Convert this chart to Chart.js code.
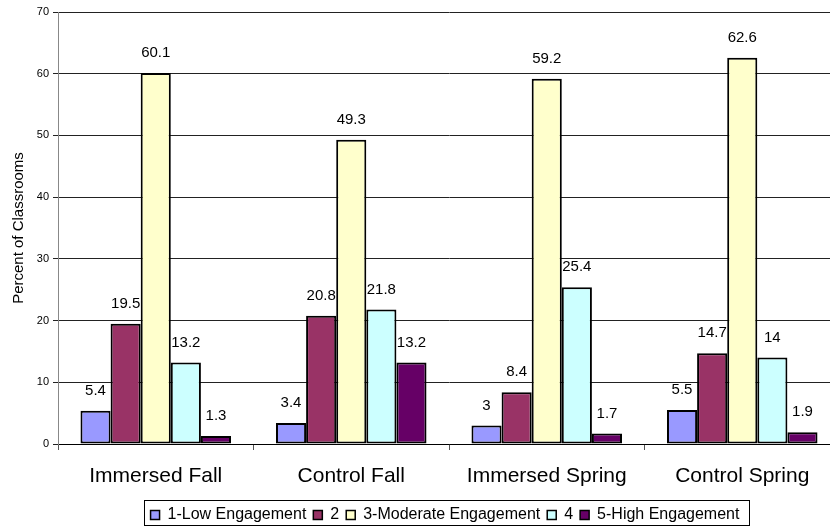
<!DOCTYPE html>
<html>
<head>
<meta charset="utf-8">
<script src="https://cdn.jsdelivr.net/npm/chart.js@4/dist/chart.umd.min.js"></script>
<style>
  html, body { margin: 0; padding: 0; background: #fff; overflow: hidden; }
  #wrap { width: 890px; height: 527px; }
</style>
</head>
<body>
<div id="wrap"><canvas id="barChart" width="890" height="527"></canvas></div>
<script>
var groups = ['Immersed Fall', 'Control Fall', 'Immersed Spring', 'Control Spring'];
var levels = ['1-Low Engagement', '2', '3-Moderate Engagement', '4', '5-High Engagement'];

// percent of classrooms per engagement level, one value per group
var lowEng = [5.4, 3.4, 3, 5.5];
var level2 = [19.5, 20.8, 8.4, 14.7];
var modEng = [60.1, 49.3, 59.2, 62.6];
var level4 = [13.2, 21.8, 25.4, 14];
var highEng = [1.3, 13.2, 1.7, 1.9];

var yTicks = [0, 10, 20, 30, 40, 50, 60, 70];

let colors = ['#9999FF', '#993366', '#FFFFCC', '#CCFFFF', '#660066'];
let font = 'Liberation Sans, Arial, sans-serif';

var series = [lowEng, level2, modEng, level4, highEng];

// value labels above each bar
var valueLabels = {
    id: 'valueLabels',
    afterDatasetsDraw: function (chart) {
        var c = chart.ctx;
        c.save();
        c.font = '15px ' + font;
        c.fillStyle = '#000';
        c.textAlign = 'center';
        c.textBaseline = 'middle';
        chart.data.datasets.forEach(function (ds, i) {
            chart.getDatasetMeta(i).data.forEach(function (bar, j) {
                c.fillText(String(ds.data[j]), bar.x, bar.y - 20);
            });
        });
        c.restore();
    }
};

// box round the legend
var legendBox = {
    id: 'legendBox',
    afterDraw: function (chart) {
        var lg = chart.legend;
        if (!lg || !lg.legendHitBoxes.length) return;
        var boxes = lg.legendHitBoxes;
        var first = boxes[0], last = boxes[boxes.length - 1];
        var cy = first.top + first.height / 2;
        var c = chart.ctx;
        c.save();
        c.strokeStyle = '#000';
        c.lineWidth = 1;
        c.strokeRect(Math.round(first.left - 7) + 0.5, Math.round(cy - 15) + 0.5,
            Math.round(last.left + last.width - first.left + 16), 25);
        c.restore();
    }
};

var ctx = document.getElementById('barChart').getContext('2d');

var chart = new Chart(ctx, {
    type: 'bar',
    data: {
        labels: groups,
        datasets: levels.map(function (name, i) {
            return {
                label: name,
                data: series[i],
                backgroundColor: colors[i],
                borderColor: '#000',
                borderWidth: 2,
                borderSkipped: false,
                categoryPercentage: 0.77,
                barPercentage: 1.0
            };
        })
    },
    options: {
        responsive: false,
        animation: false,
        layout: { padding: { top: 12, bottom: -6, left: 0, right: 0 } },
        plugins: {
            tooltip: { enabled: false },
            legend: {
                position: 'bottom',
                labels: {
                    boxWidth: 9,
                    boxHeight: 9,
                    padding: 7,
                    color: '#000',
                    font: { family: font, size: 16 },
                    generateLabels: function (chart) {
                        return chart.data.datasets.map(function (ds, i) {
                            return {
                                text: ds.label,
                                fillStyle: ds.backgroundColor,
                                strokeStyle: '#000',
                                lineWidth: 1.5,
                                datasetIndex: i,
                                fontColor: '#000'
                            };
                        });
                    }
                }
            }
        },
        scales: {
            x: {
                grid: {
                    offset: true,
                    drawOnChartArea: false,
                    drawTicks: true,
                    tickLength: 6,
                    color: '#555'
                },
                border: { color: '#000', width: 1 },
                ticks: {
                    color: '#000',
                    padding: 14,
                    font: { family: font, size: 21 }
                },
                afterFit: function (scale) { scale.height = 56; }
            },
            y: {
                min: 0,
                max: 70,
                afterBuildTicks: function (scale) {
                    scale.ticks = yTicks.map(function (v) { return { value: v }; });
                },
                grid: { color: '#222', tickLength: 5 },
                border: { color: '#888', width: 1 },
                ticks: {
                    color: '#000',
                    padding: 4,
                    font: { family: font, size: 11 }
                },
                title: {
                    display: true,
                    text: 'Percent of Classrooms',
                    color: '#000',
                    padding: { top: 10, bottom: 0 },
                    font: { family: font, size: 15 }
                },
                afterFit: function (scale) { scale.width = 58; }
            },
            y2: {
                position: 'right',
                min: 0,
                max: 70,
                grid: { display: false },
                border: { display: false },
                ticks: { display: false },
                afterFit: function (scale) { scale.width = 50; }
            }
        }
    },
    plugins: [valueLabels, legendBox]
});
</script>
</body>
</html>
